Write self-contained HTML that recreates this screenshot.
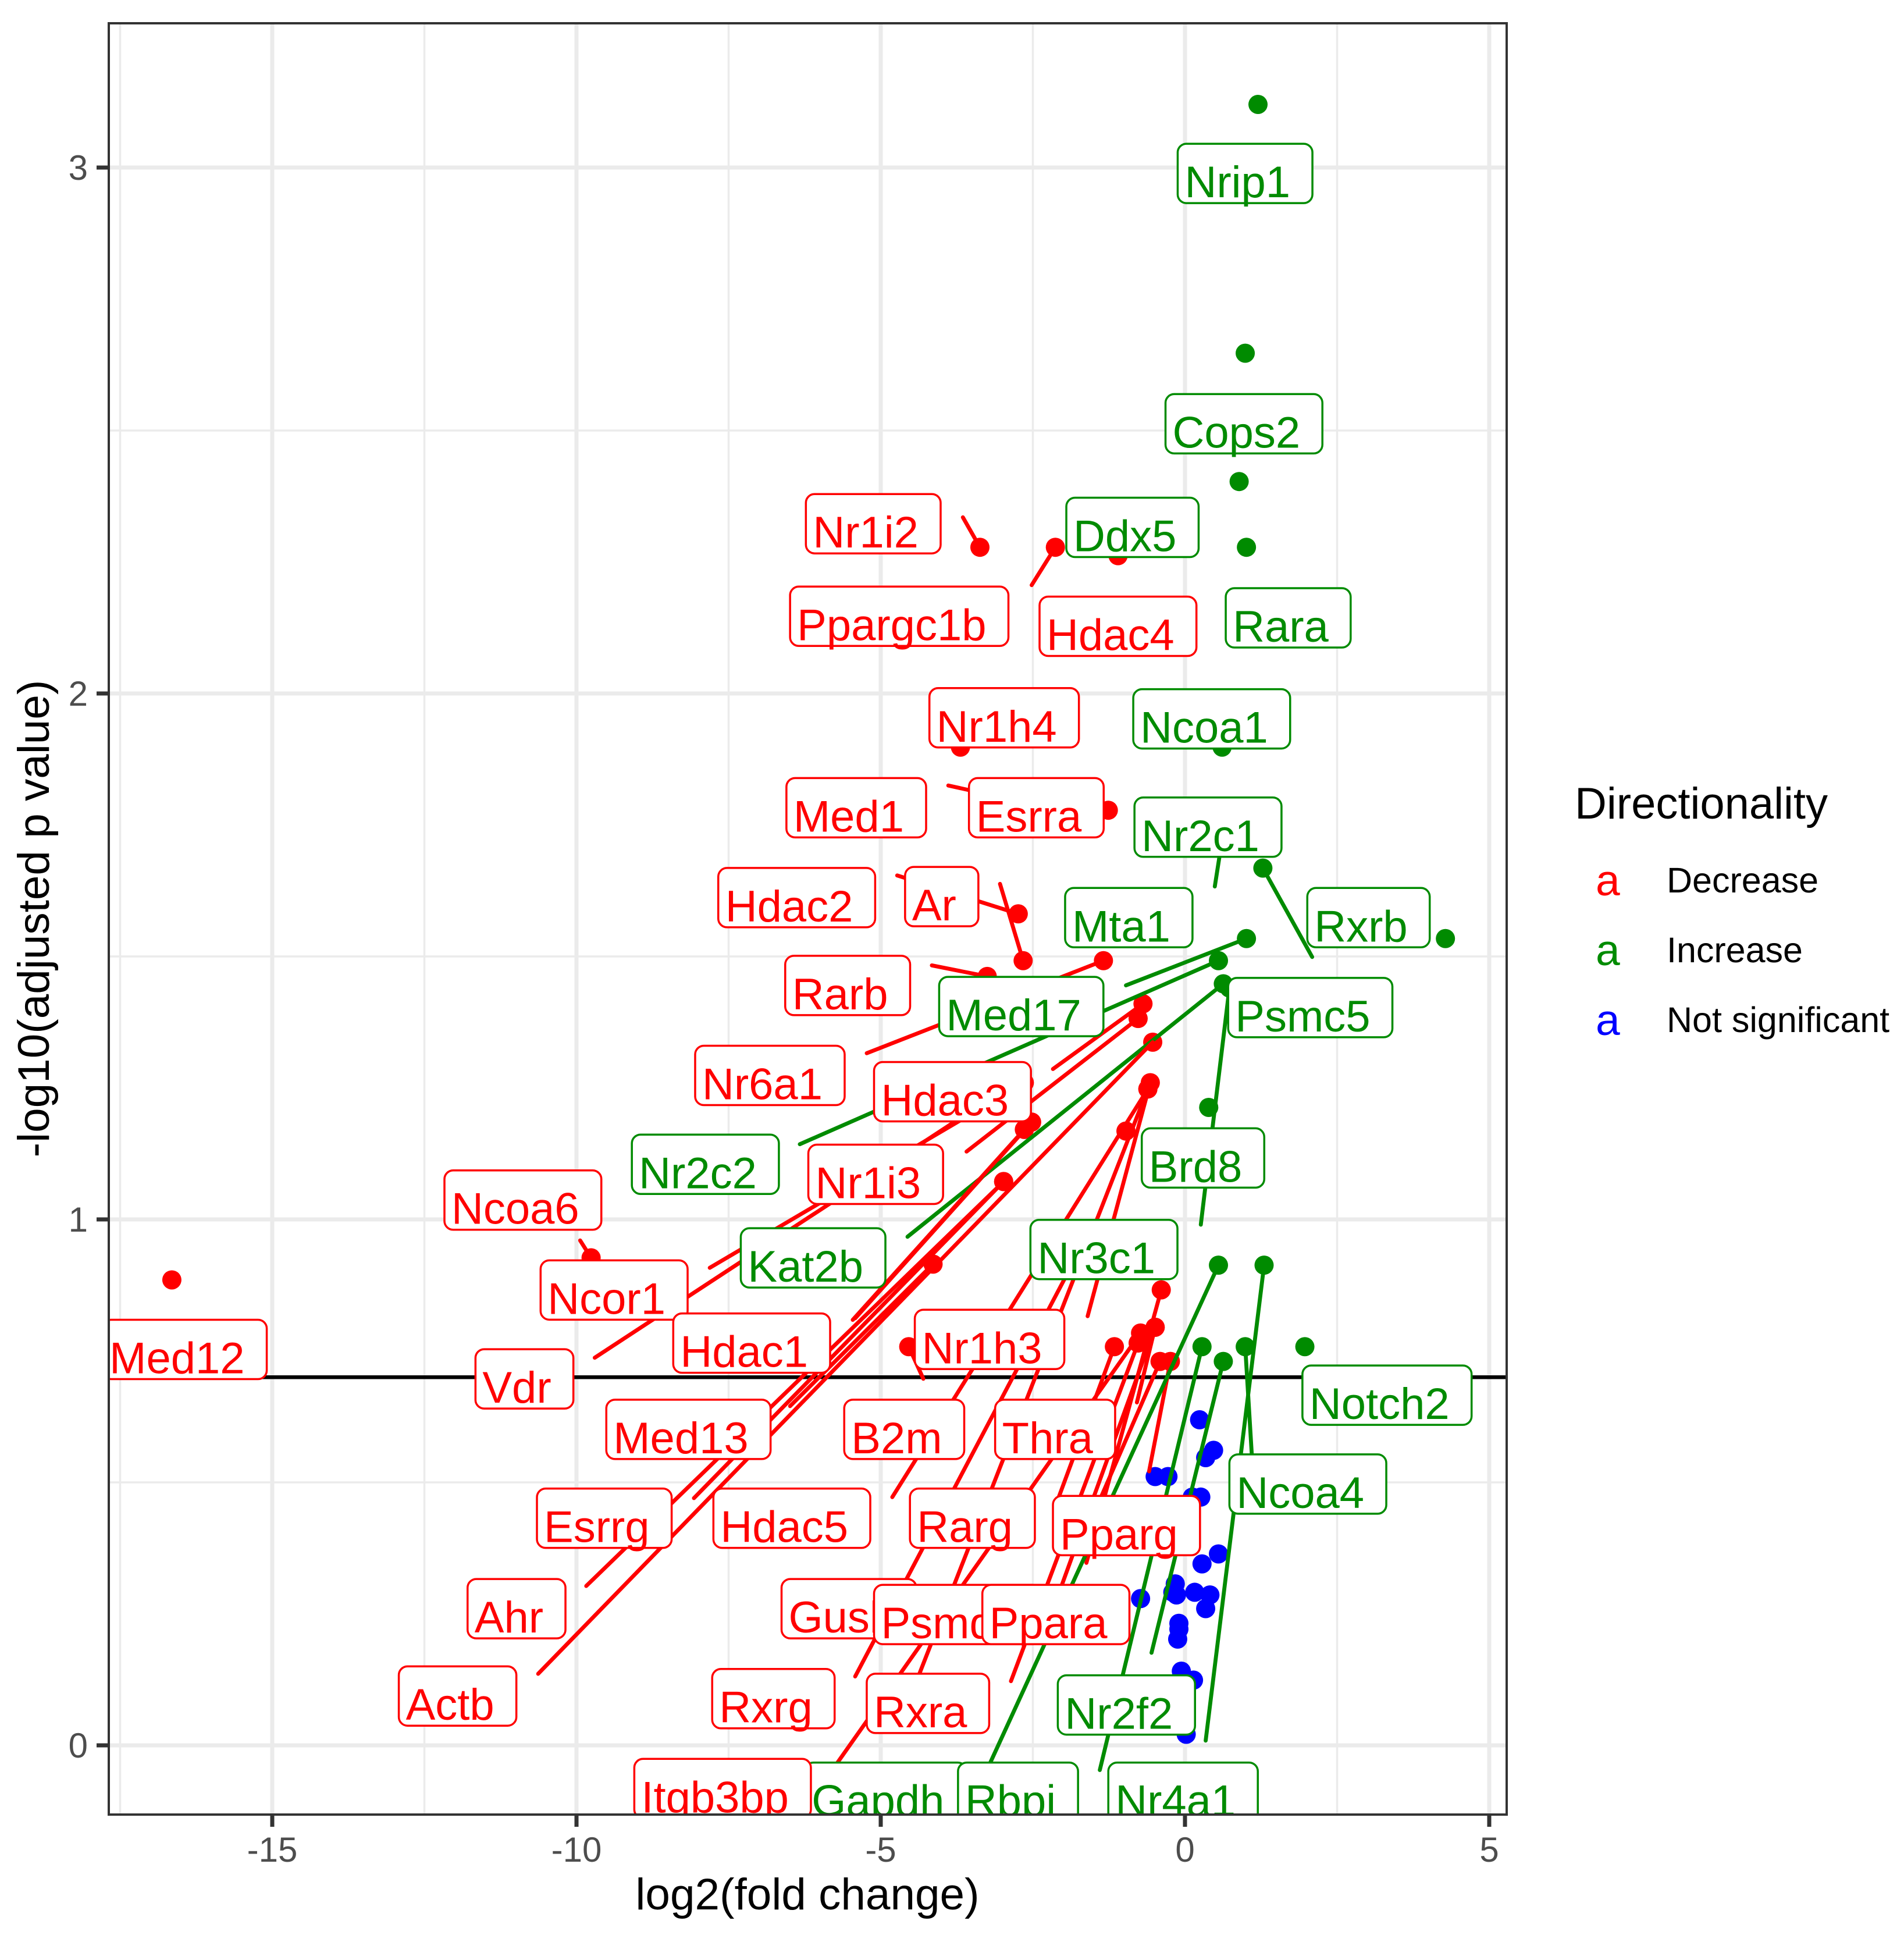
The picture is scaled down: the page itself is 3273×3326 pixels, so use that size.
<!DOCTYPE html>
<html lang="en">
<head>
<meta charset="utf-8">
<title>Volcano plot</title>
<style>
html,body{margin:0;padding:0;background:#fff;}
svg{display:block;font-family:"Liberation Sans",Arial,sans-serif;}
</style>
</head>
<body>
<svg id="chart" xmlns="http://www.w3.org/2000/svg" width="3273" height="3326" viewBox="0 0 3273 3326">
  <rect x="0" y="0" width="3273" height="3326" fill="#ffffff"/>
  <defs><clipPath id="panel-clip"><rect x="187" y="40" width="2403" height="3079"/></clipPath></defs>
  <g id="grid"></g>
  <g id="threshold"></g>
  <g id="points" clip-path="url(#panel-clip)"></g>
  <g id="segments" clip-path="url(#panel-clip)"></g>
  <g id="labels" clip-path="url(#panel-clip)"></g>
  <rect x="187" y="40" width="2403" height="3079" fill="none" stroke="#333333" stroke-width="4"/>
  <g id="axes"></g>
  <text x="1388" y="3282" font-size="76.5" text-anchor="middle" fill="#000">log2(fold change)</text>
  <text transform="translate(84,1579) rotate(-90)" font-size="76.5" text-anchor="middle" fill="#000">-log10(adjusted p value)</text>
  <g>
    <text x="2707" y="1407" font-size="76" fill="#000">Directionality</text>
    <text x="2743" y="1539" font-size="75" fill="#ff0000">a</text>
    <text x="2865" y="1534" font-size="61" fill="#000">Decrease</text>
    <text x="2743" y="1659" font-size="75" fill="#008b00">a</text>
    <text x="2865" y="1654" font-size="61" fill="#000">Increase</text>
    <text x="2743" y="1779" font-size="75" fill="#0000ff">a</text>
    <text x="2865" y="1774" font-size="61" fill="#000">Not significant</text>
  </g>
</svg>
<script>
// Axis values
const xMajorTicks = [-15, -10, -5, 0, 5];
const xMinorTicks = [-17.5, -12.5, -7.5, -2.5, 2.5];
const yMajorTicks = [0, 1, 2, 3];
const yMinorTicks = [0.5, 1.5, 2.5];
const significanceThreshold = 0.70;

// Labelled genes, in drawing order
const genes = ["Nrip1","Cops2","Ddx5","Rara","Nr1i2","Ppargc1b","Hdac4","Nr1h4","Ncoa1","Med1","Esrra","Nr2c1","Rxrb","Psmc5","Hdac2","Ar","Rarb","Nr6a1","Mta1","Nr2c2","Kat2b","Brd8","Med17","Hdac3","Nr1i3","Ncoa6","Ncor1","Hdac1","Vdr","Actb","Ahr","Esrrg","Med13","Hdac5","B2m","Gusb","Rxra","Nr3c1","Nr1h3","Gapdh","Itgb3bp","Psmd4","Ppara","Rarg","Thra","Pparg","Rxrg","Med12","Rbpj","Nr2f2","Nr4a1","Ncoa4","Notch2"];
const log2FoldChange = [1.20,0.99,0.89,1.01,-3.37,-2.13,-1.10,-3.69,0.61,-2.64,-1.26,0.61,4.28,1.28,-2.74,-2.66,-3.25,-1.34,1.01,0.55,0.63,0.73,0.39,-0.69,-0.77,-9.76,-2.64,-7.10,-2.74,-0.53,-2.98,-2.98,-2.64,-4.14,-0.61,-1.81,-0.61,-1.22,-4.54,0.63,-0.73,-0.49,-0.77,-1.16,-0.39,-0.41,-0.24,-16.65,0.55,1.30,0.28,0.99,1.97];
const negLog10P = [3.120,2.647,2.403,2.278,2.278,2.278,2.262,1.898,1.898,1.793,1.778,1.722,1.534,1.668,1.581,1.492,1.462,1.492,1.534,1.492,1.448,1.440,1.213,1.410,1.382,0.927,1.260,0.760,1.265,1.337,1.072,1.072,1.171,0.915,1.248,0.924,1.248,0.936,0.758,0.730,0.784,0.795,0.765,0.758,0.866,0.730,0.730,0.885,0.913,0.913,0.758,0.758,0.758];
const direction = ["I","I","I","I","D","D","D","D","I","D","D","I","I","I","D","D","D","D","I","I","I","I","I","D","D","D","D","D","D","D","D","D","D","D","D","D","D","I","D","I","D","D","D","D","D","D","D","D","I","I","I","I","I"];

// Label anchor (top-left of box) in data units
const labelX = [-0.12,-0.32,-1.95,0.67,-6.23,-6.49,-2.39,-4.20,-0.85,-6.55,-3.55,-0.83,2.01,0.71,-7.67,-4.60,-6.57,-8.05,-1.97,-9.09,-7.30,-0.71,-4.04,-5.11,-6.19,-12.17,-10.59,-8.41,-11.66,-12.92,-11.79,-10.65,-9.51,-7.75,-5.60,-6.63,-5.23,-2.54,-4.44,-6.25,-9.05,-5.11,-3.33,-4.52,-3.12,-2.17,-7.77,-17.79,-3.73,-2.09,-1.26,0.73,1.93];
const labelY = [3.043,2.567,2.370,2.198,2.377,2.201,2.182,2.008,2.006,1.837,1.837,1.800,1.628,1.457,1.666,1.668,1.499,1.328,1.628,1.159,0.981,1.171,1.459,1.297,1.140,1.091,0.920,0.819,0.751,0.148,0.314,0.486,0.655,0.486,0.655,0.314,0.134,0.997,0.826,-0.035,-0.028,0.303,0.303,0.486,0.655,0.472,0.143,0.807,-0.035,0.131,-0.035,0.551,0.720];

// Connector far end in data units (null means no connector)
const segmentEndX = [null,null,null,null,-3.65,-2.52,null,null,null,-3.89,null,0.49,null,2.09,-4.73,-3.04,-4.16,-5.23,-0.97,-6.33,-4.56,0.26,null,-2.17,-3.59,-9.94,-7.81,null,-9.70,-10.63,-9.84,-8.07,-5.46,-6.49,-4.81,-5.42,-4.50,null,-4.30,-0.55,-5.98,-2.17,-2.86,-2.09,-1.62,-1.62,-0.59,null,-3.20,0.34,-1.40,1.10,null];
const segmentEndY = [null,null,null,null,2.335,2.206,null,null,null,1.825,null,1.633,null,1.499,1.654,1.638,1.483,1.316,1.445,1.143,0.967,0.990,null,1.286,1.129,0.960,0.908,null,0.737,0.136,0.303,0.470,0.809,0.645,0.472,0.131,0.096,null,0.697,0.176,-0.077,0.258,0.122,0.467,0.347,0.408,0.521,null,-0.033,0.009,-0.047,0.549,null];

// Decreasing genes whose labels are not legible
const otherLog2FC = [-0.49,-0.57,-0.97,-2.52];
const otherNegLogP = [0.795,1.260,1.168,1.185];
const otherEndX = [-0.79,-1.60,null,-5.42];
const otherEndY = [0.652,0.816,null,0.812];

// Not-significant genes (unlabelled)
const blueLog2FC = [0.24,0.47,0.34,-0.49,-0.28,0.26,0.12,0.55,0.28,-0.16,-0.20,-0.14,0.16,0.41,0.34,-0.10,-0.10,-0.12,-0.06,0.14,0.02,-0.73];
const blueNegLogP = [0.619,0.561,0.547,0.511,0.511,0.472,0.472,0.364,0.345,0.307,0.291,0.286,0.291,0.286,0.260,0.232,0.221,0.202,0.141,0.124,0.021,0.279];

const colorFor = {D: "#ff0000", I: "#008b00", N: "#0000ff"};
const NS = "http://www.w3.org/2000/svg";

function xAxis(v) { return 2037 + 104.6 * v; }
function yAxis(v) { return 3000 - 904 * v; }

function make(parent, tag, attrs, text) {
  const el = document.createElementNS(NS, tag);
  for (const k in attrs) el.setAttribute(k, attrs[k]);
  if (text !== undefined) el.textContent = text;
  parent.appendChild(el);
  return el;
}

const gridLayer = document.getElementById("grid");
const thresholdLayer = document.getElementById("threshold");
const pointsLayer = document.getElementById("points");
const segmentsLayer = document.getElementById("segments");
const labelsLayer = document.getElementById("labels");
const axesLayer = document.getElementById("axes");

yMinorTicks.forEach(function (v) {
  const el = make(gridLayer, "line", {x1: 187, x2: 2590, y1: yAxis(v), y2: yAxis(v), stroke: "#ebebeb", "stroke-width": 3.5});
  
  
});
xMinorTicks.forEach(function (v) {
  const el = make(gridLayer, "line", {x1: xAxis(v), x2: xAxis(v), y1: 40, y2: 3119, stroke: "#ebebeb", "stroke-width": 3.5});
  
  
});
yMajorTicks.forEach(function (v) {
  const el = make(gridLayer, "line", {x1: 187, x2: 2590, y1: yAxis(v), y2: yAxis(v), stroke: "#ebebeb", "stroke-width": 7});
  
  
  const tick = make(axesLayer, "line", {x1: 166, x2: 187, y1: yAxis(v), y2: yAxis(v), stroke: "#333333", "stroke-width": 7});
  
  
  const lab = make(axesLayer, "text", {x: 151, y: yAxis(v) + 21, "font-size": 60, "text-anchor": "end", fill: "#4d4d4d"}, String(v));
  
  
});
xMajorTicks.forEach(function (v) {
  const el = make(gridLayer, "line", {x1: xAxis(v), x2: xAxis(v), y1: 40, y2: 3119, stroke: "#ebebeb", "stroke-width": 7});
  
  
  const tick = make(axesLayer, "line", {x1: xAxis(v), x2: xAxis(v), y1: 3119, y2: 3140, stroke: "#333333", "stroke-width": 7});
  
  
  const lab = make(axesLayer, "text", {x: xAxis(v), y: 3200, "font-size": 60, "text-anchor": "middle", fill: "#4d4d4d"}, String(v));
  
  
});

const thresholdLine = make(thresholdLayer, "line", {x1: 187, x2: 2590, y1: yAxis(significanceThreshold), y2: yAxis(significanceThreshold), stroke: "#000000", "stroke-width": 6.5});



blueLog2FC.forEach(function (v, i) {
  const dot = make(pointsLayer, "circle", {cx: xAxis(v), cy: yAxis(blueNegLogP[i]), r: 16.5, fill: colorFor.N});
  
  
});
otherLog2FC.forEach(function (v, i) {
  const dot = make(pointsLayer, "circle", {cx: xAxis(v), cy: yAxis(otherNegLogP[i]), r: 16.5, fill: colorFor.D});
  
  
});
genes.forEach(function (g, i) {
  const dot = make(pointsLayer, "circle", {cx: xAxis(log2FoldChange[i]), cy: yAxis(negLog10P[i]), r: 16.5, fill: colorFor[direction[i]]});
  
  
});

otherLog2FC.forEach(function (v, i) {
  if (otherEndX[i] === null) return;
  const seg = make(segmentsLayer, "line", {x1: xAxis(v), y1: yAxis(otherNegLogP[i]), x2: xAxis(otherEndX[i]), y2: yAxis(otherEndY[i]), stroke: colorFor.D, "stroke-width": 6.8, "stroke-linecap": "round"});
  
  
});
genes.forEach(function (g, i) {
  if (segmentEndX[i] === null) return;
  const seg = make(segmentsLayer, "line", {x1: xAxis(log2FoldChange[i]), y1: yAxis(negLog10P[i]), x2: xAxis(segmentEndX[i]), y2: yAxis(segmentEndY[i]), stroke: colorFor[direction[i]], "stroke-width": 6.8, "stroke-linecap": "round"});
  
  
});

genes.forEach(function (g, i) {
  const col = colorFor[direction[i]];
  const left = xAxis(labelX[i]);
  const top = yAxis(labelY[i]) - 2;
  const group = make(labelsLayer, "g", {});
  
  
  const box = make(group, "rect", {x: left, y: top, width: 100, height: 102, rx: 15, ry: 15, fill: "#ffffff", stroke: col, "stroke-width": 3.5});
  
  
  const txt = make(group, "text", {x: left + 12, y: top + 92, "font-size": 76, fill: col}, g);
  
  
  box.setAttribute("width", txt.getComputedTextLength() + 50);
});
</script>
</body>
</html>
